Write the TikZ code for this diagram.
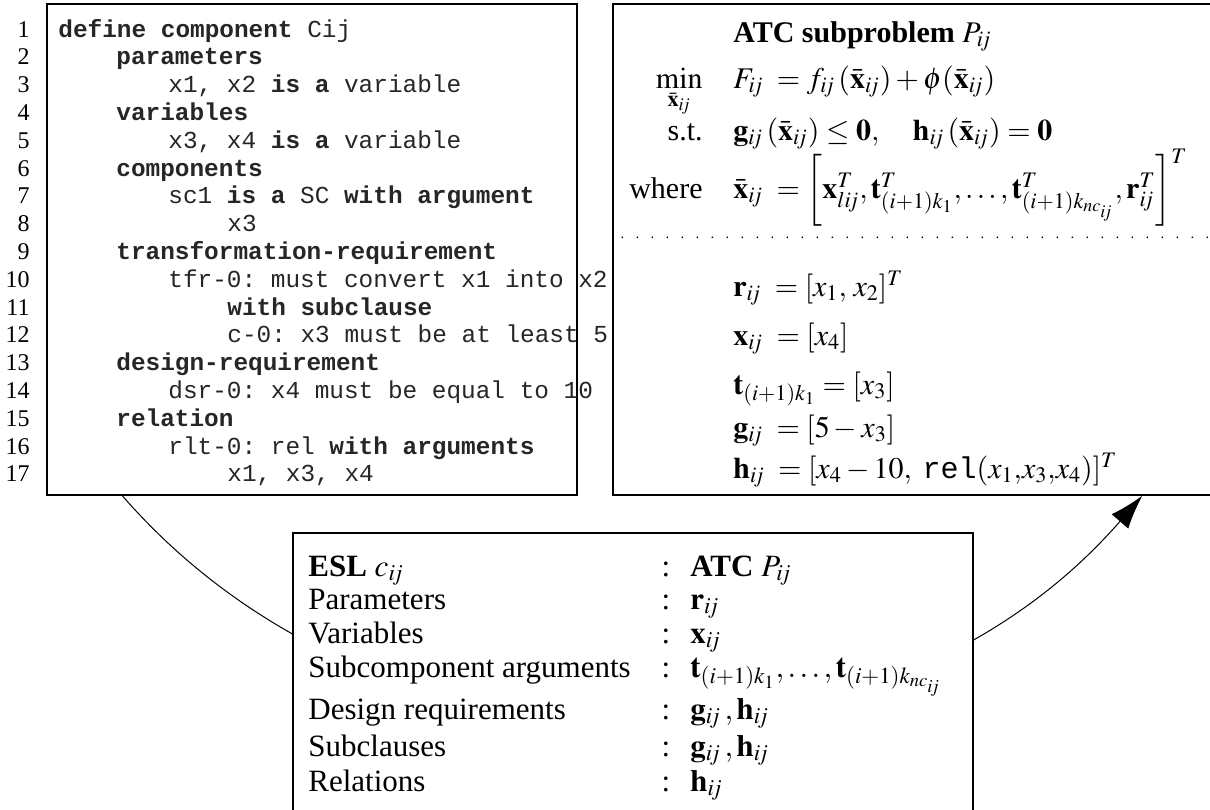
\documentclass[tikz,border=0pt]{standalone}
\usepackage{mathptmx}
\usepackage{fontspec}
\setmainfont{Liberation Serif}
\setmonofont{Liberation Mono}
\usetikzlibrary{arrows.meta,calc}
\newcommand{\sij}{i\mkern-2mu j}
\tikzset{
  box/.style={draw, line width=0.7pt, inner sep=0pt},
  num/.style={anchor=base east, inner sep=0pt, font=\fontsize{12}{14}\selectfont},
  codeline/.style={anchor=base west, inner sep=0pt, font=\fontsize{12.2}{14}\selectfont\ttfamily, text=black!85},
  eq/.style={anchor=base west, inner sep=0pt, font=\fontsize{15}{17}\selectfont},
  lab/.style={anchor=base east, inner sep=0pt, font=\fontsize{15}{17}\selectfont},
  row/.style={anchor=base west, inner sep=0pt, font=\fontsize{15.5}{18}\selectfont},
  colon/.style={anchor=base, inner sep=0pt, font=\fontsize{15.5}{18}\selectfont},
  link/.style={line width=0.5pt, -{Latex[length=17pt,width=11pt]}},
  dotline/.style={line width=0.9pt, line cap=round, dash pattern=on 0pt off 7.5pt},
}
\begin{document}
\begin{tikzpicture}[x=0.5pt,y=0.5pt]
\useasboundingbox (0,0) rectangle (1210,-809);
\clip (0,0) rectangle (1210,-809);

% boxes
\node[box, minimum width=265pt, minimum height=245.5pt] (codebox) at (312,-249.5) {};
\node[box, minimum width=313.5pt, minimum height=245.5pt] (atcbox) at (926.5,-249.5) {};

% connector (passes behind the mapping box)
\coordinate (s) at ($(codebox.south west)+(76,0)$);
\coordinate (e) at ($(atcbox.south west)+(530,0)$);
\draw[link] (s) to[out=-49, in=229] (e);

\node[box, fill=white, minimum width=340pt, minimum height=158.5pt] (mapbox) at (633,-691.5) {};

% line numbers
\foreach \i in {1,...,17} {
  \node[num] (n\i) at (30,{-37-(\i-1)*27.8}) {\i};
}
% code
\def\Lz{58}\def\Lo{116}\def\Lt{168}\def\Lh{227}
\node[codeline] (c1)  at (\Lz,-37)    {\textbf{define component} Cij};
\node[codeline] (c2)  at (\Lo,-64.8)  {\textbf{parameters}};
\node[codeline] (c3)  at (\Lt,-92.6)  {x1, x2 \textbf{is a} variable};
\node[codeline] (c4)  at (\Lo,-120.4) {\textbf{variables}};
\node[codeline] (c5)  at (\Lt,-148.2) {x3, x4 \textbf{is a} variable};
\node[codeline] (c6)  at (\Lo,-176)   {\textbf{components}};
\node[codeline] (c7)  at (\Lt,-203.8) {sc1 \textbf{is a} SC \textbf{with argument}};
\node[codeline] (c8)  at (\Lh,-231.6) {x3};
\node[codeline] (c9)  at (\Lo,-259.4) {\textbf{transformation-requirement}};
\node[codeline] (c10) at (\Lt,-287.2) {tfr-0: must convert x1 into x2};
\node[codeline] (c11) at (\Lh,-315)   {\textbf{with subclause}};
\node[codeline] (c12) at (\Lh,-342.8) {c-0: x3 must be at least 5};
\node[codeline] (c13) at (\Lo,-370.6) {\textbf{design-requirement}};
\node[codeline] (c14) at (\Lt,-398.4) {dsr-0: x4 must be equal to 10};
\node[codeline] (c15) at (\Lo,-426.2) {\textbf{relation}};
\node[codeline] (c16) at (\Lt,-454)   {rlt-0: rel \textbf{with arguments}};
\node[codeline] (c17) at (\Lh,-481.8) {x1, x3, x4};
\draw[line width=0.7pt] (codebox.north west) rectangle (codebox.south east);

% ATC subproblem
\def\Ex{733}\def\Lx{703}
\node[eq] (title) at (\Ex,-42) {\textbf{ATC subproblem} $P_{\sij}$};
\node[lab] (lmin) at (\Lx,-88) {$\min\limits_{\bar{\mathbf{x}}_{\sij}}$};
\node[eq] (emin) at (\Ex,-88) {$F_{\sij}\;=f_{\sij}\,(\bar{\mathbf{x}}_{\sij})+\phi(\bar{\mathbf{x}}_{\sij})$};
\node[lab] (lst) at (\Lx,-140) {s.t.};
\node[eq] (est) at (\Ex,-140) {$\mathbf{g}_{\sij}\,(\bar{\mathbf{x}}_{\sij})\leq\mathbf{0},\quad\mathbf{h}_{\sij}\,(\bar{\mathbf{x}}_{\sij})=\mathbf{0}$};
\node[lab] (lwh) at (\Lx,-198) {where};
\node[eq] (ewh) at (\Ex,-198) {$\bar{\mathbf{x}}_{\sij}\;=\left[\mathbf{x}_{l\sij}^T,\mathbf{t}_{(i+1)k_1}^T,\ldots,\mathbf{t}_{(i+1)k_{nc_{\sij}}}^T,\mathbf{r}_{\sij}^T\right]^T$};
\draw[dotline] ($(atcbox.north west)+(10,-234)$) -- ($(atcbox.north east)+(0,-234)$);
\node[eq] (er) at (\Ex,-296) {$\mathbf{r}_{\sij}\;=[x_1,\,x_2]^T$};
\node[eq] (ex) at (\Ex,-345) {$\mathbf{x}_{\sij}\;=[x_4]$};
\node[eq] (et) at (\Ex,-394) {$\mathbf{t}_{(i+1)k_1}=[x_3]$};
\node[eq] (eg) at (\Ex,-437) {$\mathbf{g}_{\sij}\;=[5-x_3]$};
\node[eq] (eh) at (\Ex,-478) {$\mathbf{h}_{\sij}\;=[x_4-10,\ \texttt{rel}(x_1{,}x_3{,}x_4)]^T$};

% mapping table
\def\Ca{308}\def\Cc{666}\def\Cb{690}
\node[row] (r1a) at (\Ca,-576) {\textbf{ESL} $c_{\sij}$};
\node[colon] (r1c) at (\Cc,-576) {:};
\node[row] (r1b) at (\Cb,-576) {\textbf{ATC} $P_{\sij}$};
\node[row] (r2a) at (\Ca,-609) {Parameters};
\node[colon] (r2c) at (\Cc,-609) {:};
\node[row] (r2b) at (\Cb,-609) {$\mathbf{r}_{\sij}$};
\node[row] (r3a) at (\Ca,-643) {Variables};
\node[colon] (r3c) at (\Cc,-643) {:};
\node[row] (r3b) at (\Cb,-643) {$\mathbf{x}_{\sij}$};
\node[row] (r4a) at (\Ca,-677) {Subcomponent arguments};
\node[colon] (r4c) at (\Cc,-677) {:};
\node[row] (r4b) at (\Cb,-677) {$\mathbf{t}_{(i+1)k_1},\ldots,\mathbf{t}_{(i+1)k_{nc_{\sij}}}$};
\node[row] (r5a) at (\Ca,-719) {Design requirements};
\node[colon] (r5c) at (\Cc,-719) {:};
\node[row] (r5b) at (\Cb,-719) {$\mathbf{g}_{\sij}\,,\mathbf{h}_{\sij}$};
\node[row] (r6a) at (\Ca,-756) {Subclauses};
\node[colon] (r6c) at (\Cc,-756) {:};
\node[row] (r6b) at (\Cb,-756) {$\mathbf{g}_{\sij}\,,\mathbf{h}_{\sij}$};
\node[row] (r7a) at (\Ca,-791) {Relations};
\node[colon] (r7c) at (\Cc,-791) {:};
\node[row] (r7b) at (\Cb,-791) {$\mathbf{h}_{\sij}$};
\end{tikzpicture}
\end{document}
